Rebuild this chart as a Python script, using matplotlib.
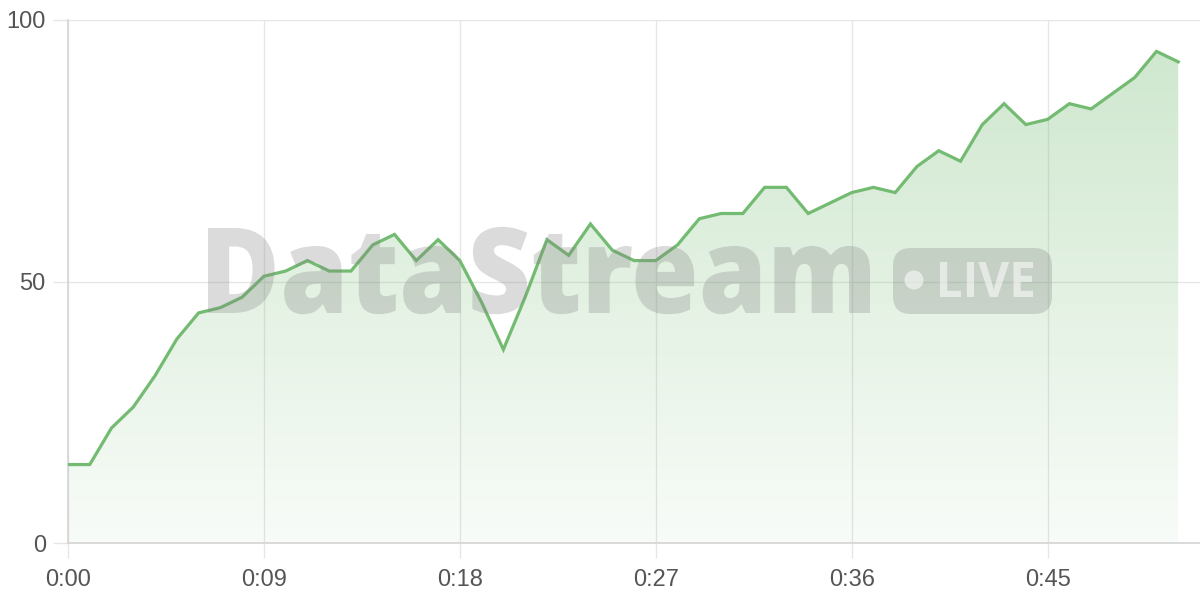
import numpy as np
import matplotlib
matplotlib.use("Agg")
import matplotlib.pyplot as plt
from matplotlib.patches import FancyBboxPatch, Circle, PathPatch
from matplotlib.colors import LinearSegmentedColormap
from matplotlib.textpath import TextPath
from matplotlib.font_manager import FontProperties
from matplotlib.transforms import Affine2D, IdentityTransform

minutes = list(range(52))
values = [15, 15, 22, 26, 32, 39, 44, 45, 47, 51,
          52, 54, 52, 52, 57, 59, 54, 58, 54, 46,
          37, 47, 58, 55, 61, 56, 54, 54, 57, 62,
          63, 63, 68, 68, 63, 65, 67, 68, 67, 72,
          75, 73, 80, 84, 80, 81, 84, 83, 86, 89,
          94, 92]
xticks = [0, 9, 18, 27, 36, 45]
xtick_labels = ["0:00", "0:09", "0:18", "0:27", "0:36", "0:45"]
yticks = [0, 50, 100]

line_color = "#74bb72"
grid_color = "#e6e6e6"
text_color = "#555555"

plt.rcParams["font.family"] = ["Liberation Sans", "DejaVu Sans"]

fig = plt.figure(figsize=(12, 6), dpi=100)
ax = fig.add_axes([68 / 1200, 57 / 600, 1 - 68 / 1200, 523 / 600])

# gradient fill under the line
poly = ax.fill_between(minutes, values, 0, color="none", lw=0)
cmap = LinearSegmentedColormap.from_list(
    "g", [(0.45, 0.73, 0.44, 0.05), (0.45, 0.73, 0.44, 0.36)])
grad = np.linspace(0, 1, 256).reshape(-1, 1)
im = ax.imshow(grad, extent=[0, 51, 0, 100], origin="lower", cmap=cmap,
               aspect="auto", zorder=1)
im.set_clip_path(poly.get_paths()[0], transform=ax.transData)

ax.plot(minutes, values, color=line_color, lw=2.3, zorder=4,
        solid_joinstyle="miter")

ax.set_xlim(0, 52)
ax.set_ylim(0, 100)
ax.set_xticks(xticks, xtick_labels)
ax.set_yticks(yticks)
ax.grid(True, color=grid_color, lw=1, zorder=0)
ax.set_axisbelow(True)
ax.tick_params(axis="both", length=11, width=1, color=grid_color,
               labelcolor=text_color, labelsize=17)
ax.tick_params(axis="x", pad=8)
ax.tick_params(axis="y", pad=5)
for s in ["top", "right"]:
    ax.spines[s].set_visible(False)
for s in ["left", "bottom"]:
    ax.spines[s].set_color("#d4d4d4")
    ax.spines[s].set_linewidth(1.2)

# watermark (pixel coordinates, origin bottom-left)
fp = FontProperties(family=["Open Sans", "DejaVu Sans"], weight=800)
tp = TextPath((0, 0), "DataStream", size=100, prop=fp)
ext = tp.get_extents()
sx = 662 / ext.width
sy = 85 / 71.4
tr = Affine2D().translate(-ext.x0, 0).scale(sx, sy).translate(208, 287)
fig.add_artist(PathPatch(tp, transform=tr, facecolor="#808080", lw=0,
                         alpha=0.28, zorder=3))

badge = FancyBboxPatch((893, 286), 159, 66,
                       boxstyle="round,pad=0,rounding_size=18",
                       transform=IdentityTransform(), lw=0,
                       facecolor="#808080", alpha=0.28, zorder=3)
fig.add_artist(badge)
fig.add_artist(Circle((914, 320), 9.5, transform=IdentityTransform(),
                      facecolor="white", alpha=0.55, lw=0, zorder=3))
fp2 = FontProperties(family=["Open Sans", "DejaVu Sans"], weight="bold")
tp2 = TextPath((0, 0), "LIVE", size=100, prop=fp2)
ext2 = tp2.get_extents()
tr2 = (Affine2D().translate(-ext2.x0, -ext2.y0)
       .scale(93 / ext2.width, 35 / ext2.height).translate(940, 303))
fig.add_artist(PathPatch(tp2, transform=tr2, facecolor="white", lw=0,
                         alpha=0.55, zorder=3))

fig.savefig("out.png", dpi=100)
